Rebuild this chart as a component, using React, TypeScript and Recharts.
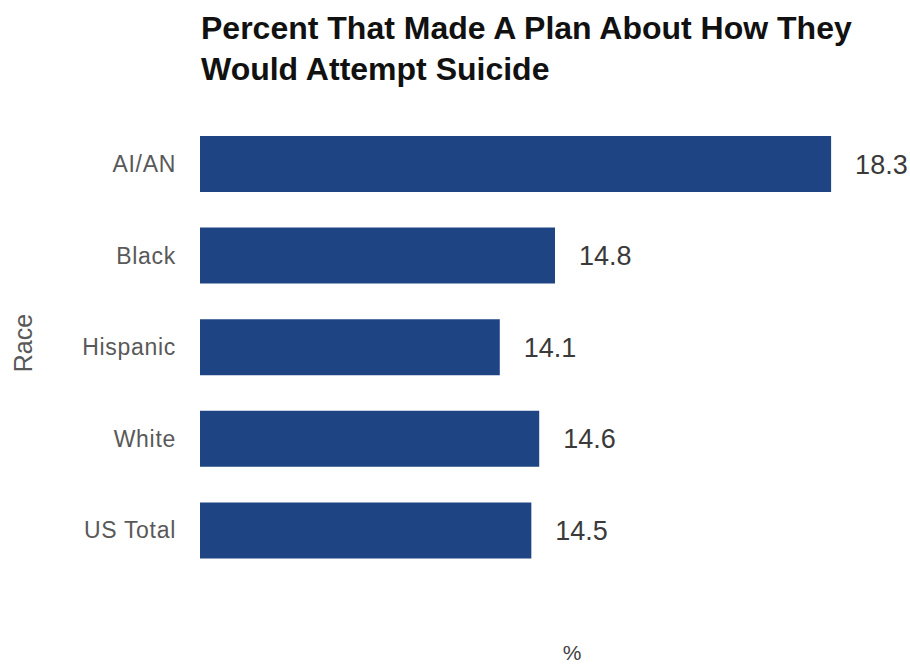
import { BarChart, Bar, XAxis, YAxis, LabelList } from "recharts";

// Percent that made a plan about how they would attempt suicide, by race
const races = ["AI/AN", "Black", "Hispanic", "White", "US Total"];
const percents = [18.3, 14.8, 14.1, 14.6, 14.5];

const data = races.map((race, i) => ({ race, pct: percents[i] }));

const FONT = '"Liberation Sans", Arial, sans-serif';

export default function App() {
  return (
    <div
      style={{
        position: "absolute",
        left: 0,
        top: 0,
        width: 910,
        height: 667,
        background: "#fff",
        fontFamily: FONT,
      }}
    >
      <div
        style={{
          position: "absolute",
          left: 201,
          top: 8,
          fontSize: 32,
          fontWeight: 700,
          lineHeight: "41px",
          color: "#111",
          whiteSpace: "nowrap",
        }}
      >
        Percent That Made A Plan About How They
        <br />
        Would Attempt Suicide
      </div>
      <BarChart
        width={910}
        height={667}
        layout="vertical"
        data={data}
        margin={{ top: 118, right: 0, bottom: 1, left: 0 }}
        style={{ fontFamily: FONT }}
      >
        <XAxis
          type="number"
          domain={[10.3, 19.3]}
          tick={false}
          tickLine={false}
          axisLine={false}
          height={90}
          label={{
            value: "%",
            position: "insideBottom",
            offset: 6,
            dx: 17,
            style: { fontSize: 21, fill: "#404040" },
          }}
        />
        <YAxis
          type="category"
          dataKey="race"
          width={200}
          tickLine={false}
          axisLine={false}
          tickMargin={18}
          tick={{ fontSize: 23, fill: "#595959", letterSpacing: 0.7 }}
          label={{
            value: "Race",
            angle: -90,
            position: "insideLeft",
            offset: 23,
            dy: -4,
            style: { textAnchor: "middle", fontSize: 25, fill: "#595959" },
          }}
        />
        <Bar dataKey="pct" fill="#1f4484" barSize={56} isAnimationActive={false}>
          <LabelList
            dataKey="pct"
            position="right"
            offset={24}
            style={{ fontSize: 27, fill: "#3a3a3a" }}
          />
        </Bar>
      </BarChart>
    </div>
  );
}
